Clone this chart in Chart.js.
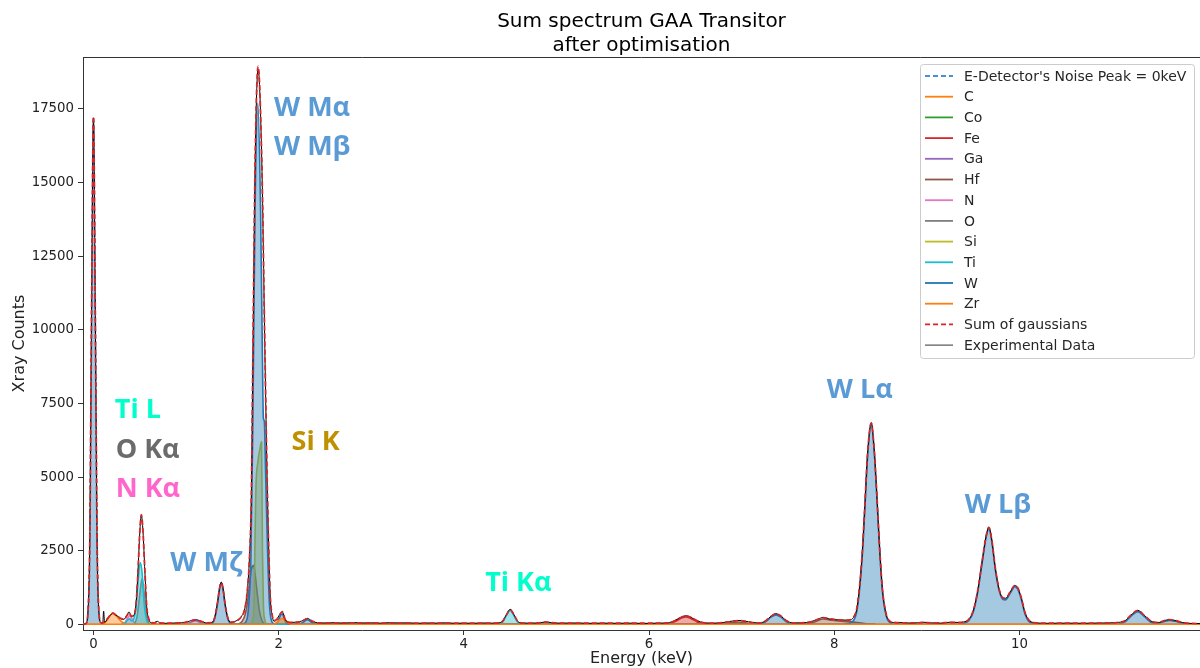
<!DOCTYPE html>
<html lang="en">
<head>
<meta charset="UTF-8">
<title>Sum spectrum GAA Transitor</title>
<script src="https://cdn.jsdelivr.net/npm/chart.js"></script>
<style>
  body { margin: 0; background: #fff; }
  canvas { display: block; }
</style>
</head>
<body>
<canvas id="spectrum" width="1200" height="668"></canvas>
<script>
// measured spectrum and the summed fit, same energy grid (keV)
var specEnergy = [-0.11, -0.08, -0.06, -0.04, -0.02, 0.00, 0.02, 0.04, 0.06, 0.08, 0.10, 0.11, 0.12, 0.15, 0.18, 0.21, 0.24, 0.27, 0.30, 0.33,
  0.36, 0.385, 0.41, 0.44, 0.46, 0.48, 0.50, 0.517, 0.535, 0.555, 0.575, 0.60, 0.63, 0.66, 0.69, 0.72, 0.78, 0.85, 0.92, 0.98,
  1.04, 1.10, 1.16, 1.22, 1.28, 1.31, 1.34, 1.36, 1.38, 1.40, 1.42, 1.45, 1.48, 1.52, 1.56, 1.60, 1.63, 1.66, 1.685, 1.705,
  1.721, 1.746, 1.778, 1.818, 1.853, 1.875, 1.895, 1.91, 1.93, 1.95, 1.98, 2.01, 2.04, 2.07, 2.12, 2.18, 2.25, 2.31, 2.36, 2.42,
  2.5, 2.6, 2.7, 2.8, 2.9, 3.0, 3.1, 3.2, 3.3, 3.4, 3.5, 3.6, 3.7, 3.8, 3.9, 4.0, 4.1, 4.2, 4.3, 4.38,
  4.42, 4.46, 4.50, 4.54, 4.58, 4.62, 4.7, 4.8, 4.89, 4.95, 5.05, 5.2, 5.35, 5.5, 5.65, 5.8, 5.95, 6.1, 6.2, 6.28,
  6.35, 6.40, 6.45, 6.52, 6.60, 6.7, 6.8, 6.9, 6.96, 7.03, 7.12, 7.2, 7.26, 7.32, 7.37, 7.42, 7.48, 7.55, 7.65, 7.75,
  7.82, 7.88, 7.95, 8.05, 8.15, 8.20, 8.25, 8.30, 8.33, 8.36, 8.40, 8.43, 8.46, 8.49, 8.52, 8.56, 8.60, 8.65, 8.75, 8.85,
  8.95, 9.05, 9.15, 9.25, 9.35, 9.40, 9.45, 9.50, 9.55, 9.60, 9.64, 9.67, 9.70, 9.74, 9.78, 9.82, 9.85, 9.90, 9.95, 9.98,
  10.02, 10.06, 10.10, 10.15, 10.3, 10.5, 10.7, 10.9, 11.05, 11.14, 11.20, 11.28, 11.35, 11.42, 11.50, 11.56, 11.62, 11.68, 11.76, 11.85,
  11.95];
var expCounts = [0, 40, 400, 2800, 10800, 17200, 10500, 2600, 350, 60, 40, 450, 60, 180, 300, 380, 310, 260, 180, 170,
  300, 420, 260, 330, 700, 1750, 3100, 3700, 3150, 1800, 600, 150, 50, 60, 100, 45, 35, 40, 50, 60,
  110, 160, 110, 45, 60, 250, 750, 1200, 1430, 1200, 700, 230, 70, 90, 150, 280, 480, 1100, 2300, 4400,
  8900, 15700, 18850, 15700, 8950, 5000, 2300, 900, 300, 100, 160, 330, 420, 160, 60, 70, 110, 200, 110, 50,
  45, 55, 40, 60, 45, 50, 40, 55, 45, 50, 35, 45, 40, 50, 35, 40, 35, 45, 40, 50,
  120, 330, 510, 330, 110, 45, 40, 45, 80, 50, 40, 45, 35, 40, 35, 40, 30, 40, 50, 130,
  250, 290, 240, 120, 50, 40, 60, 110, 130, 110, 60, 50, 120, 280, 360, 290, 130, 50, 50, 90,
  170, 230, 180, 150, 140, 200, 650, 2300, 4000, 5800, 6850, 6000, 4400, 2600, 1200, 350, 100, 60, 55, 40,
  70, 50, 40, 70, 60, 80, 160, 450, 1150, 2200, 3000, 3300, 2900, 1900, 1200, 900, 880, 1100, 1320, 1250,
  900, 400, 150, 60, 35, 40, 35, 45, 60, 120, 300, 470, 300, 110, 60, 120, 160, 130, 60, 30,
  25];
var fitCounts = [0, 30, 380, 2700, 10700, 17250, 10450, 2650, 380, 60, 50, 70, 100, 190, 300, 380, 320, 250, 190, 180,
  290, 400, 270, 320, 680, 1720, 3120, 3720, 3150, 1820, 620, 160, 60, 50, 80, 50, 40, 40, 45, 60,
  100, 150, 100, 50, 55, 240, 740, 1190, 1420, 1200, 710, 230, 70, 80, 140, 270, 470, 1080, 2250, 4350,
  8950, 15750, 18950, 15700, 9000, 5050, 2300, 920, 320, 130, 170, 320, 430, 170, 60, 60, 100, 190, 110, 50,
  45, 45, 45, 45, 45, 45, 42, 42, 42, 40, 40, 40, 40, 40, 40, 40, 40, 40, 40, 45,
  110, 320, 500, 330, 110, 50, 40, 45, 75, 55, 40, 38, 38, 38, 36, 36, 36, 38, 45, 120,
  240, 280, 240, 120, 50, 40, 55, 100, 125, 110, 60, 50, 120, 270, 360, 290, 130, 50, 50, 85,
  165, 225, 185, 150, 140, 210, 660, 2300, 4000, 5800, 6830, 6000, 4400, 2600, 1200, 360, 110, 60, 50, 45,
  55, 50, 50, 60, 60, 80, 160, 450, 1150, 2200, 3000, 3290, 2900, 1900, 1200, 900, 880, 1100, 1310, 1250,
  900, 400, 150, 60, 40, 40, 40, 42, 60, 120, 300, 470, 300, 110, 60, 120, 160, 130, 60, 30,
  25];

// fitted components per element
var noiseEnergy = [-0.11, -0.08, -0.06, -0.04, -0.02, 0.00, 0.02, 0.04, 0.06, 0.08, 0.11];
var noiseCounts = [0, 30, 380, 2700, 10600, 17200, 10400, 2600, 350, 30, 0];

var cEnergy = [-0.11, 0.08, 0.12, 0.15, 0.18, 0.21, 0.24, 0.27, 0.30, 0.34, 0.38, 11.95];
var cCounts = [0, 0, 40, 150, 300, 370, 300, 200, 100, 30, 0, 0];

var coEnergy = [6.82, 6.90, 6.93, 6.98, 7.05];
var coCounts = [0, 20, 30, 20, 0];

var feEnergy = [6.15, 6.22, 6.28, 6.35, 6.40, 6.45, 6.52, 6.60, 6.98, 7.05, 7.12];
var feCounts = [0, 20, 90, 210, 250, 200, 80, 0, 0, 25, 0];

var gaEnergy = [0.98, 1.04, 1.10, 1.16, 1.22];
var gaCounts = [0, 50, 120, 50, 0];

var hfEnergy = [1.56, 1.60, 1.64, 1.67, 1.70, 1.73, 1.76, 1.79, 1.82, 1.86,
  6.80, 6.88, 6.96, 7.04, 7.12,
  7.65, 7.75, 7.82, 7.88, 7.95, 8.05, 8.15, 8.25, 8.35, 8.45];
var hfCounts = [0, 80, 350, 900, 1800, 2000, 1300, 500, 120, 0,
  0, 50, 80, 50, 0,
  0, 40, 120, 180, 150, 110, 90, 60, 20, 0];

var nEnergy = [0.30, 0.34, 0.37, 0.39, 0.41, 0.44, 0.48];
var nCounts = [0, 60, 220, 300, 220, 60, 0];

var oEnergy = [0.44, 0.47, 0.50, 0.525, 0.55, 0.575, 0.61];
var oCounts = [0, 250, 1000, 1550, 1000, 250, 0];

var siEnergy = [1.70, 1.72, 1.735, 1.745, 1.755, 1.775, 1.80, 1.815, 1.825, 1.835, 1.85, 1.87];
var siCounts = [0, 150, 700, 3000, 4700, 5500, 6000, 6200, 2500, 700, 150, 0];

var tiEnergy = [0.30, 0.34, 0.37, 0.39, 0.41, 0.43, 0.46, 0.48, 0.505, 0.525, 0.545, 0.57, 0.60,
  4.36, 4.42, 4.46, 4.50, 4.54, 4.58, 4.64,
  4.80, 4.86, 4.90, 4.95, 5.00];
var tiCounts = [0, 40, 150, 190, 120, 150, 600, 1400, 2100, 1750, 800, 200, 0,
  0, 80, 300, 470, 300, 80, 0,
  0, 30, 45, 20, 0];

var wEnergy = [1.28, 1.31, 1.34, 1.36, 1.38, 1.40, 1.42, 1.45, 1.48, 1.55,
  1.62, 1.66, 1.68, 1.70, 1.72, 1.745, 1.775, 1.805, 1.825, 1.835, 1.845, 1.86, 1.88, 1.90, 1.92, 1.95,
  1.99, 2.02, 2.04, 2.07, 2.12, 2.22, 2.27, 2.31, 2.35, 2.40,
  7.20, 7.26, 7.32, 7.37, 7.42, 7.48, 7.55,
  8.10, 8.20, 8.25, 8.30, 8.33, 8.36, 8.40, 8.43, 8.46, 8.49, 8.52, 8.56, 8.60, 8.65,
  9.35, 9.40, 9.45, 9.50, 9.55, 9.60, 9.64, 9.67, 9.70, 9.74, 9.78, 9.82, 9.85, 9.90, 9.95, 9.98, 10.02, 10.06, 10.10, 10.15, 10.20,
  11.05, 11.14, 11.20, 11.28, 11.35, 11.42, 11.48, 11.56, 11.62, 11.68, 11.76, 11.85];
var wCounts = [0, 200, 700, 1180, 1420, 1180, 700, 200, 30, 0,
  20, 200, 800, 2200, 6500, 14000, 17700, 14000, 9000, 7000, 6900, 5000, 2500, 700, 150, 20,
  80, 300, 350, 100, 0, 0, 80, 160, 80, 0,
  0, 90, 250, 320, 250, 90, 0,
  0, 100, 550, 2200, 3900, 5700, 6800, 5950, 4350, 2550, 1150, 300, 60, 0,
  0, 30, 120, 400, 1100, 2150, 2950, 3250, 2850, 1850, 1150, 850, 830, 1050, 1280, 1200, 850, 350, 100, 20, 0,
  0, 80, 260, 430, 260, 70, 20, 90, 130, 100, 30, 0];

var zrEnergy = [-0.11, 1.95, 2.00, 2.04, 2.08, 2.13, 11.95];
var zrCounts = [0, 0, 120, 200, 120, 0, 0];

// axis tick values
var energyTicks = [0, 2, 4, 6, 8, 10];
var countTicks = [0, 2500, 5000, 7500, 10000, 12500, 15000, 17500];

// legend rows, top to bottom
var legendLabels = ["E-Detector's Noise Peak = 0keV", 'C', 'Co', 'Fe', 'Ga', 'Hf', 'N', 'O', 'Si', 'Ti', 'W', 'Zr', 'Sum of gaussians', 'Experimental Data'];
var legendColors = ['#4a8fd0', '#ff7f0e', '#2ca02c', '#d62728', '#9467bd', '#8c564b', '#e377c2', '#7f7f7f', '#bcbd22', '#17becf', '#1f77b4', '#ff7f0e', '#d62728', '#333333'];

// peak labels written on the plot (energy keV, counts at text baseline)
var noteText = ['W Mα', 'W Mβ', 'Ti L', 'O Kα', 'N Kα', 'Si K', 'W Mζ', 'Ti Kα', 'W Lα', 'W Lβ'];
var noteEnergy = [1.95, 1.95, 0.23, 0.24, 0.24, 2.14, 0.83, 4.23, 7.92, 9.41];
var noteCounts = [17260, 15940, 7010, 5650, 4320, 5920, 1820, 1140, 7690, 3780];
var noteColor = ['#5b9bd5', '#5b9bd5', '#00ffcc', '#6b6b6b', '#ff66cc', '#bf9000', '#5b9bd5', '#00ffcc', '#5b9bd5', '#5b9bd5'];

function pts(xs, ys) {
  var out = [];
  for (var i = 0; i < xs.length; i++) out.push({ x: xs[i], y: ys[i] });
  return out;
}

function fade(hex, a) {
  var r = parseInt(hex.substr(1, 2), 16), g = parseInt(hex.substr(3, 2), 16), b = parseInt(hex.substr(5, 2), 16);
  return 'rgba(' + r + ',' + g + ',' + b + ',' + a + ')';
}

function component(label, xs, ys, color) {
  return {
    label: label,
    data: pts(xs, ys),
    borderColor: color,
    backgroundColor: fade(color, 0.4),
    borderWidth: 1.6,
    fill: 'origin',
    pointRadius: 0,
    cubicInterpolationMode: 'monotone'
  };
}

// first dataset is painted last, so the fit and data sit on top
var datasets = [
  {
    label: 'Sum of gaussians',
    data: pts(specEnergy, fitCounts),
    borderColor: '#d62728',
    borderWidth: 1.8,
    borderDash: [5, 3],
    fill: false,
    pointRadius: 0,
    cubicInterpolationMode: 'monotone'
  },
  {
    label: 'Experimental Data',
    data: pts(specEnergy, expCounts),
    borderColor: '#000000',
    borderWidth: 1,
    fill: false,
    pointRadius: 0,
    cubicInterpolationMode: 'monotone'
  },
  component('Zr', zrEnergy, zrCounts, '#ff7f0e'),
  component('W', wEnergy, wCounts, '#1f77b4'),
  component('Ti', tiEnergy, tiCounts, '#17becf'),
  component('Si', siEnergy, siCounts, '#bcbd22'),
  component('O', oEnergy, oCounts, '#7f7f7f'),
  component('N', nEnergy, nCounts, '#e377c2'),
  component('Hf', hfEnergy, hfCounts, '#8c564b'),
  component('Ga', gaEnergy, gaCounts, '#9467bd'),
  component('Fe', feEnergy, feCounts, '#d62728'),
  component('Co', coEnergy, coCounts, '#2ca02c'),
  component('C', cEnergy, cCounts, '#ff7f0e')
];
var noise = component("E-Detector's Noise Peak = 0keV", noiseEnergy, noiseCounts, '#1f77b4');
noise.borderDash = [4, 2];
noise.borderColor = '#4a8fd0';
datasets.push(noise);

// title, top spine, peak labels and the legend box
var decorations = {
  id: 'decorations',
  afterDraw: function (chart) {
    var ctx = chart.ctx, area = chart.chartArea;
    var xs = chart.scales.x, ys = chart.scales.y;
    ctx.save();

    ctx.strokeStyle = '#333';
    ctx.lineWidth = 1;
    ctx.beginPath();
    ctx.moveTo(area.left, area.top + 0.5);
    ctx.lineTo(area.right, area.top + 0.5);
    ctx.stroke();

    ctx.fillStyle = '#000';
    ctx.font = '20px "DejaVu Sans"';
    ctx.textAlign = 'center';
    ctx.textBaseline = 'alphabetic';
    var cx = (area.left + area.right) / 2;
    ctx.fillText('Sum spectrum GAA Transitor', cx, 27);
    ctx.fillText('after optimisation', cx, 51);

    ctx.font = 'bold 27px "Open Sans"';
    ctx.textAlign = 'left';
    for (var i = 0; i < noteText.length; i++) {
      ctx.fillStyle = noteColor[i];
      ctx.fillText(noteText[i], xs.getPixelForValue(noteEnergy[i]), ys.getPixelForValue(noteCounts[i]));
    }

    var bx = 920.5, by = 64.5, bw = 274, bh = 294;
    ctx.fillStyle = 'rgba(255,255,255,0.8)';
    ctx.strokeStyle = '#cccccc';
    ctx.beginPath();
    ctx.roundRect(bx, by, bw, bh, 3);
    ctx.fill();
    ctx.stroke();

    ctx.font = '14px "DejaVu Sans"';
    ctx.textBaseline = 'middle';
    for (var j = 0; j < legendLabels.length; j++) {
      var ry = 76 + j * 20.7;
      var dashed = (j === 0 || j === 12);
      ctx.strokeStyle = legendColors[j];
      ctx.lineWidth = j === 13 ? 1 : 1.8;
      ctx.setLineDash(dashed ? [5, 3] : []);
      ctx.beginPath();
      ctx.moveTo(925, ry);
      ctx.lineTo(953, ry);
      ctx.stroke();
      ctx.setLineDash([]);
      ctx.fillStyle = '#262626';
      ctx.fillText(legendLabels[j], 964, ry + 1);
    }
    ctx.restore();
  }
};

function fixedTicks(values) {
  return function (scale) {
    scale.ticks = values.map(function (v) { return { value: v }; });
  };
}

Chart.defaults.font.family = '"DejaVu Sans"';
Chart.defaults.color = '#222';

new Chart(document.getElementById('spectrum'), {
  type: 'line',
  data: { datasets: datasets },
  plugins: [decorations],
  options: {
    responsive: false,
    animation: false,
    events: [],
    layout: { padding: { top: 57, right: 0, left: 0, bottom: 0 } },
    plugins: {
      legend: { display: false },
      title: { display: false },
      tooltip: { enabled: false }
    },
    scales: {
      x: {
        type: 'linear',
        min: -0.113,
        max: 11.95,
        afterBuildTicks: fixedTicks(energyTicks),
        afterFit: function (scale) { scale.height = 38; },
        border: { display: true, color: '#333' },
        grid: { drawOnChartArea: false, drawTicks: true, tickLength: 5, color: '#333' },
        ticks: {
          autoSkip: false,
          padding: 2,
          font: { size: 13.3 },
          callback: function (v) { return String(v); }
        },
        title: { display: true, text: 'Energy (keV)', font: { size: 16 }, padding: { top: 0, bottom: 0 } }
      },
      y: {
        min: -194,
        max: 19266,
        afterBuildTicks: fixedTicks(countTicks),
        afterFit: function (scale) { scale.width = 83; },
        border: { display: true, color: '#333' },
        grid: { drawOnChartArea: false, drawTicks: true, tickLength: 5, color: '#333' },
        ticks: {
          autoSkip: false,
          padding: 4,
          font: { size: 13.3 },
          callback: function (v) { return String(v); }
        },
        title: { display: true, text: 'Xray Counts', font: { size: 16 }, padding: { top: 10, bottom: 0 } }
      }
    }
  }
});
</script>
</body>
</html>
